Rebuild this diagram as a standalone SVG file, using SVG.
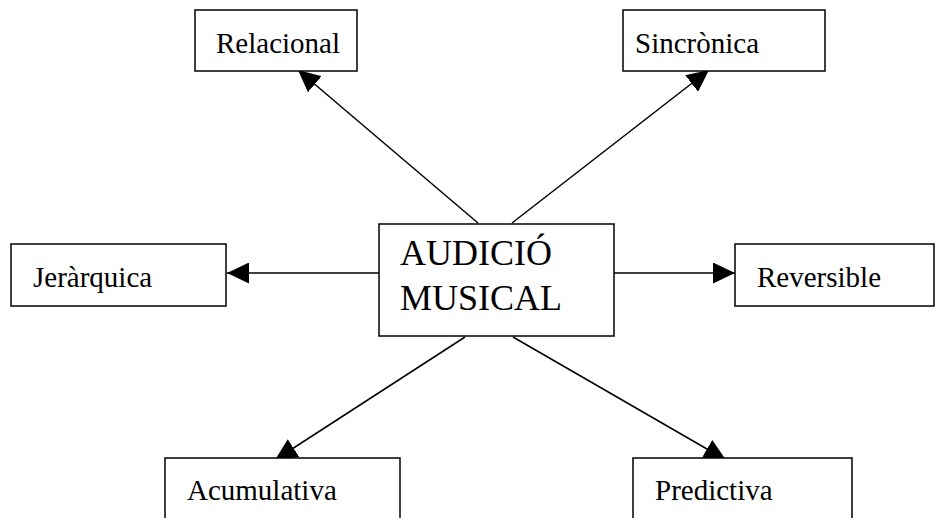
<svg xmlns="http://www.w3.org/2000/svg" width="936" height="518" viewBox="0 0 936 518">
<style>
.box{fill:#fff;stroke:#000;stroke-width:1.5}
.lbl{font-family:"Liberation Serif","Times New Roman",serif;font-size:29px;fill:#000}
.big{font-family:"Liberation Serif","Times New Roman",serif;font-size:36px;fill:#000}
.conn line{stroke:#000;stroke-width:1.5;marker-end:url(#ah)}
</style>
<defs>
<marker id="ah" markerUnits="userSpaceOnUse" markerWidth="23" markerHeight="21" refX="22" refY="10.5" orient="auto" viewBox="0 0 23 21">
<path d="M0,0 L22,10.5 L0,21 Z" fill="#000"/>
</marker>
</defs>
<rect width="936" height="518" fill="#fff"/>
<g id="connectors" class="conn">
<line x1="478" y1="223" x2="298" y2="70"/>
<line x1="512" y1="223" x2="709" y2="70"/>
<line x1="379" y1="273" x2="227" y2="273"/>
<line x1="614" y1="273" x2="735" y2="273"/>
<line x1="465" y1="337" x2="275" y2="460"/>
<line x1="513" y1="337" x2="726" y2="460"/>
</g>
<g id="n-center">
<rect class="box" x="379" y="224" width="235" height="112"/>
<text class="big" x="400" y="265">AUDICIÓ</text>
<text class="big" x="400" y="310">MUSICAL</text>
</g>
<g id="n-relacional">
<rect class="box" x="195" y="10" width="162" height="61"/>
<text class="lbl" x="216" y="53">Relacional</text>
</g>
<g id="n-sincronica">
<rect class="box" x="623" y="10" width="202" height="61"/>
<text class="lbl" x="635" y="53">Sincrònica</text>
</g>
<g id="n-jerarquica">
<rect class="box" x="11" y="244" width="215" height="62"/>
<text class="lbl" x="33" y="287">Jeràrquica</text>
</g>
<g id="n-reversible">
<rect class="box" x="735" y="244" width="199" height="62"/>
<text class="lbl" x="757" y="287">Reversible</text>
</g>
<g id="n-acumulativa">
<rect class="box" x="165" y="458" width="235" height="80"/>
<text class="lbl" x="187" y="500">Acumulativa</text>
</g>
<g id="n-predictiva">
<rect class="box" x="633" y="458" width="219" height="80"/>
<text class="lbl" x="655" y="500">Predictiva</text>
</g>
</svg>
